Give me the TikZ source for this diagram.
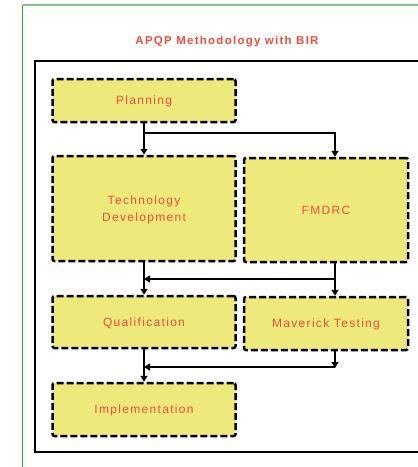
\documentclass[tikz,border=0pt]{standalone}
\usepackage{fontspec}
\setsansfont{Liberation Sans}[LetterSpace=11]
\usepackage{xcolor}
\definecolor{apqpred}{RGB}{240,78,62}
\definecolor{apqpfill}{RGB}{237,233,122}
\definecolor{framegreen}{RGB}{60,155,60}
\definecolor{framelight}{RGB}{135,195,135}
\tikzset{every picture/.style={/utils/exec={\sffamily}}}
\usetikzlibrary{positioning}
\usetikzlibrary{arrows.meta}
\tikzset{
  phase/.style={draw, fill=apqpfill, line width=2.5pt, dash pattern=on 7pt off 3pt,
    rounded corners=2pt, text=apqpred, font=\fontsize{12}{17}\selectfont,
    align=center, inner sep=0pt, text depth=-2pt},
  flow/.style={draw, line width=2pt, -{Triangle[length=6pt,width=7pt]}}
}

\begin{document}
\begin{tikzpicture}[x=1pt, y=-1pt]
  \useasboundingbox (0,0) rectangle (418,467);

  % outer frames
  \draw [framegreen, line width=1.2pt] (22.5,467) -- (22.5,5);
  \draw [framelight, line width=1.8pt] (22.5,5) -- (418,5);
  \draw [line width=1.4pt] (420,61) -- (35,61) -- (35,452) -- (420,452);

  \node [text=apqpred, font=\bfseries\fontsize{11.5}{14}\selectfont] (title) at (227,42) {APQP Methodology with BIR};

  % phases
  \node [phase, minimum width=183pt, minimum height=43pt] (plan) at (144,100.5) {Planning};
  \node [phase, minimum width=183pt, minimum height=105pt] (techdev) at (144,208.5) {Technology\\Development};
  \node [phase, minimum width=164pt, minimum height=104pt] (fmdrc) at (326,210) {FMDRC};
  \node [phase, minimum width=183pt, minimum height=52pt] (qual) at (144,322) {Qualification};
  \node [phase, minimum width=164pt, minimum height=53pt] (maverick) at (326,323.5) {Maverick Testing};
  \node [phase, minimum width=183pt, minimum height=53pt] (impl) at (144,409.5) {Implementation};

  % branch and join points
  \path (plan.south) ++(0,9.5) coordinate (fork);
  \coordinate (join1) at ([xshift=9pt]fmdrc.south |- 0,279);
  \coordinate (join2) at ([xshift=9pt]maverick.south |- 0,367);

  \draw [flow] (plan.south) -- (techdev.north);
  \draw [flow] (fork) -| ([xshift=9pt]fmdrc.north);
  \draw [flow] (techdev.south) -- (qual.north);
  \draw [flow] ([xshift=9pt]fmdrc.south) -- ([xshift=9pt]maverick.north);
  \draw [flow] (join1) -- (join1 -| techdev.south);
  \draw [flow] (qual.south) -- (impl.north);
  \draw [flow] ([xshift=9pt]maverick.south) -- ([yshift=-1pt]join2);
  \draw [flow] (join2) -- (join2 -| qual.south);
\end{tikzpicture}
\end{document}
